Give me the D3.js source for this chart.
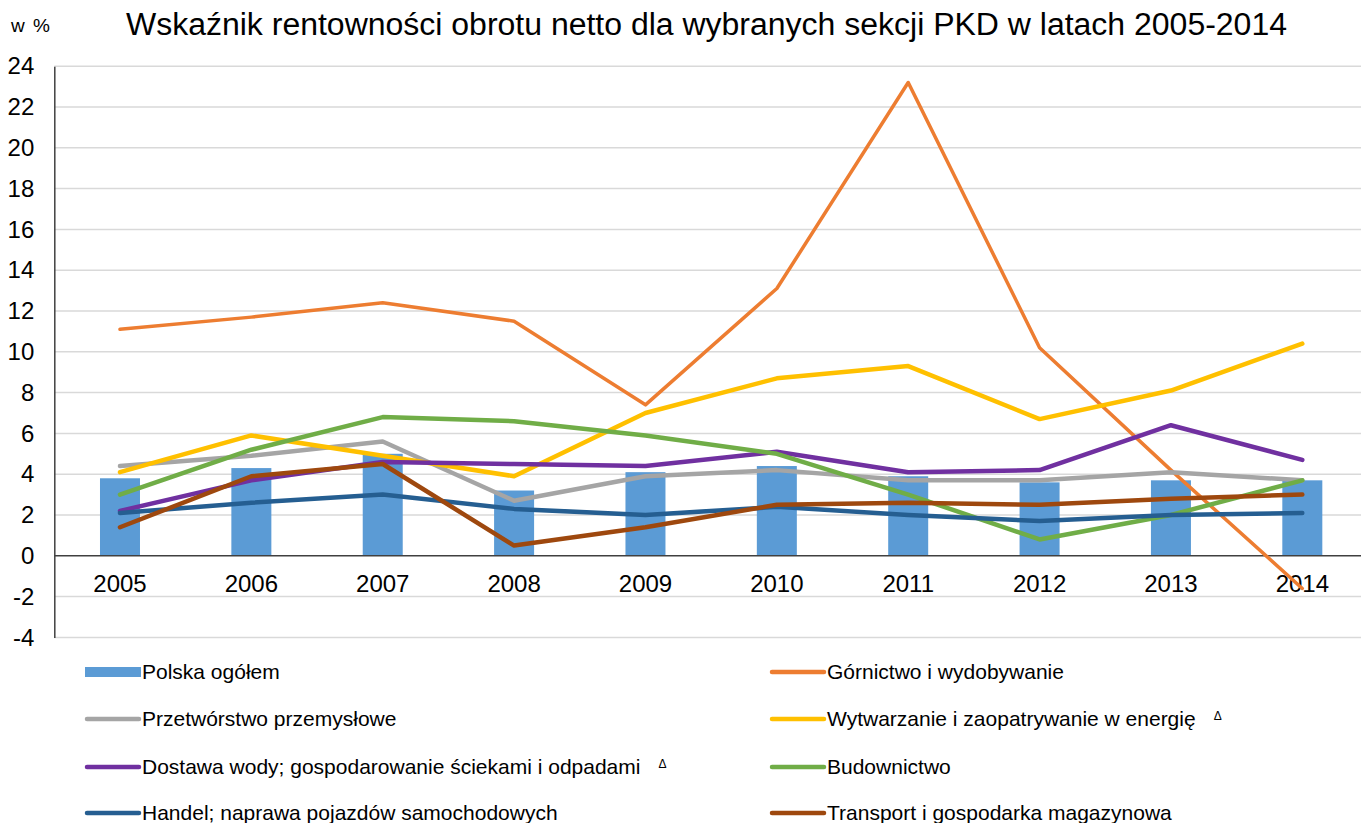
<!DOCTYPE html>
<html>
<head>
<meta charset="utf-8">
<script src="https://cdnjs.cloudflare.com/ajax/libs/d3/7.8.5/d3.min.js"></script>
<style>
  body { margin: 0; background: #fff; }
  text { font-family: Arial, "Liberation Sans", sans-serif; fill: #000; }
</style>
</head>
<body>
<div id="chart"></div>
<script>
// Dane
var lata = ["2005", "2006", "2007", "2008", "2009", "2010", "2011", "2012", "2013", "2014"];
var yTicks = [-4, -2, 0, 2, 4, 6, 8, 10, 12, 14, 16, 18, 20, 22, 24];

var polska       = [3.8, 4.3, 5.0, 3.2, 4.1, 4.4, 3.9, 3.6, 3.7, 3.7];
var gornictwo    = [11.1, 11.7, 12.4, 11.5, 7.4, 13.1, 23.2, 10.2, 4.2, -1.6];
var przetworstwo = [4.4, 4.9, 5.6, 2.7, 3.9, 4.2, 3.7, 3.7, 4.1, 3.7];
var wytwarzanie  = [4.1, 5.9, 4.9, 3.9, 7.0, 8.7, 9.3, 6.7, 8.1, 10.4];
var dostawa      = [2.2, 3.7, 4.6, 4.5, 4.4, 5.1, 4.1, 4.2, 6.4, 4.7];
var budownictwo  = [3.0, 5.2, 6.8, 6.6, 5.9, 5.0, 3.0, 0.8, 2.0, 3.7];
var handel       = [2.1, 2.6, 3.0, 2.3, 2.0, 2.4, 2.0, 1.7, 2.0, 2.1];
var transport    = [1.4, 3.9, 4.5, 0.5, 1.4, 2.5, 2.6, 2.5, 2.8, 3.0];

var serie = [
  {name: "Górnictwo i wydobywanie", values: gornictwo, color: "#ED7D31", w: 3.5},
  {name: "Przetwórstwo przemysłowe", values: przetworstwo, color: "#A5A5A5", w: 4.5},
  {name: "Wytwarzanie i zaopatrywanie w energię", values: wytwarzanie, color: "#FFC000", w: 4.5, delta: true},
  {name: "Dostawa wody; gospodarowanie ściekami i odpadami", values: dostawa, color: "#7030A0", w: 4.5, delta: true},
  {name: "Budownictwo", values: budownictwo, color: "#70AD47", w: 4.5},
  {name: "Handel; naprawa pojazdów samochodowych", values: handel, color: "#255E91", w: 4.5},
  {name: "Transport i gospodarka magazynowa", values: transport, color: "#9E480E", w: 4.5}
];

var W = 1361, H = 823;
var svg = d3.select("#chart").append("svg")
    .attr("width", W)
    .attr("height", H);

// Skale
var x = d3.scaleBand()
  .domain(lata)
  .range([54.3, 1368]);
var cx = function(d) { return x(d) + x.bandwidth() / 2; };

var y = d3.scaleLinear()
  .domain([-4, 24])
  .range([637.4, 66.2]);

// Tytuł
svg.append("text")
  .attr("x", 126)
  .attr("y", 35)
  .attr("textLength", 1161)
  .attr("lengthAdjust", "spacingAndGlyphs")
  .style("font-size", "31px")
  .text("Wskaźnik rentowności obrotu netto dla wybranych sekcji PKD w latach 2005-2014");

svg.append("text")
  .attr("x", 11)
  .attr("y", 32)
  .style("font-size", "19px")
  .style("word-spacing", "3px")
  .text("w %");

// Siatka
svg.append("g")
  .selectAll("line")
  .data(yTicks.filter(function(d) { return d != 0; }))
  .enter()
  .append("line")
    .attr("x1", 54.3)
    .attr("x2", W)
    .attr("y1", function(d) { return y(d); })
    .attr("y2", function(d) { return y(d); })
    .attr("stroke", "#d9d9d9")
    .attr("stroke-width", 1.5);

// Oś Y
var yAxis = svg.append("g")
  .attr("transform", "translate(54.3,0)")
  .call(d3.axisLeft(y).tickValues(yTicks).tickSize(0).tickPadding(20)
    .tickFormat(function(d) { return String(d); }));
yAxis.select(".domain").attr("stroke", "#404040").attr("stroke-width", 1.5);
yAxis.selectAll("text")
  .style("font-size", "24px")
  .style("font-family", "Arial, 'Liberation Sans', sans-serif");

// Słupki
svg.append("g")
  .selectAll("rect")
  .data(lata)
  .enter()
  .append("rect")
    .attr("x", function(d) { return cx(d) - 20; })
    .attr("width", 40)
    .attr("y", function(d, i) { return y(polska[i]); })
    .attr("height", function(d, i) { return y(0) - y(polska[i]); })
    .attr("fill", "#5B9BD5");

// Oś X (linia zera)
var xAxis = svg.append("g")
  .attr("transform", "translate(0," + y(0) + ")")
  .call(d3.axisBottom(x).tickSize(0).tickPadding(19));
xAxis.select(".domain").attr("stroke", "#404040").attr("stroke-width", 1.5)
  .attr("d", "M54.3,0H" + W);
xAxis.selectAll("text")
  .style("font-size", "24px")
  .style("font-family", "Arial, 'Liberation Sans', sans-serif");

// Linie
var line = d3.line()
  .x(function(d, i) { return cx(lata[i]); })
  .y(function(d) { return y(d); });

svg.append("g")
  .selectAll("path")
  .data(serie)
  .enter()
  .append("path")
    .attr("d", function(d) { return line(d.values); })
    .attr("fill", "none")
    .attr("stroke", function(d) { return d.color; })
    .attr("stroke-width", function(d) { return d.w; })
    .attr("stroke-linejoin", "round")
    .attr("stroke-linecap", "round");

// Legenda
var legenda = [{name: "Polska ogółem", color: "#5B9BD5", bar: true}].concat(serie);
var colX = [85, 770];
var rowY = [672, 719, 767, 813];

var lg = svg.append("g")
  .selectAll("g")
  .data(legenda)
  .enter()
  .append("g")
    .attr("transform", function(d, i) {
      return "translate(" + colX[i % 2] + "," + rowY[Math.floor(i / 2)] + ")";
    });

lg.filter(function(d) { return d.bar; })
  .append("rect")
    .attr("x", 0)
    .attr("y", -5)
    .attr("width", 56)
    .attr("height", 10)
    .attr("fill", function(d) { return d.color; });

lg.filter(function(d) { return !d.bar; })
  .append("line")
    .attr("x1", 2)
    .attr("x2", 54)
    .attr("stroke", function(d) { return d.color; })
    .attr("stroke-width", 4.5)
    .attr("stroke-linecap", "round");

var lt = lg.append("text")
  .attr("x", 57)
  .attr("dy", "0.35em")
  .style("font-size", "21px")
  .text(function(d) { return d.name; });

lt.filter(function(d) { return d.delta; })
  .append("tspan")
    .attr("dx", 18)
    .attr("dy", "-0.55em")
    .style("font-size", "12px")
    .text("Δ");
</script>
</body>
</html>
